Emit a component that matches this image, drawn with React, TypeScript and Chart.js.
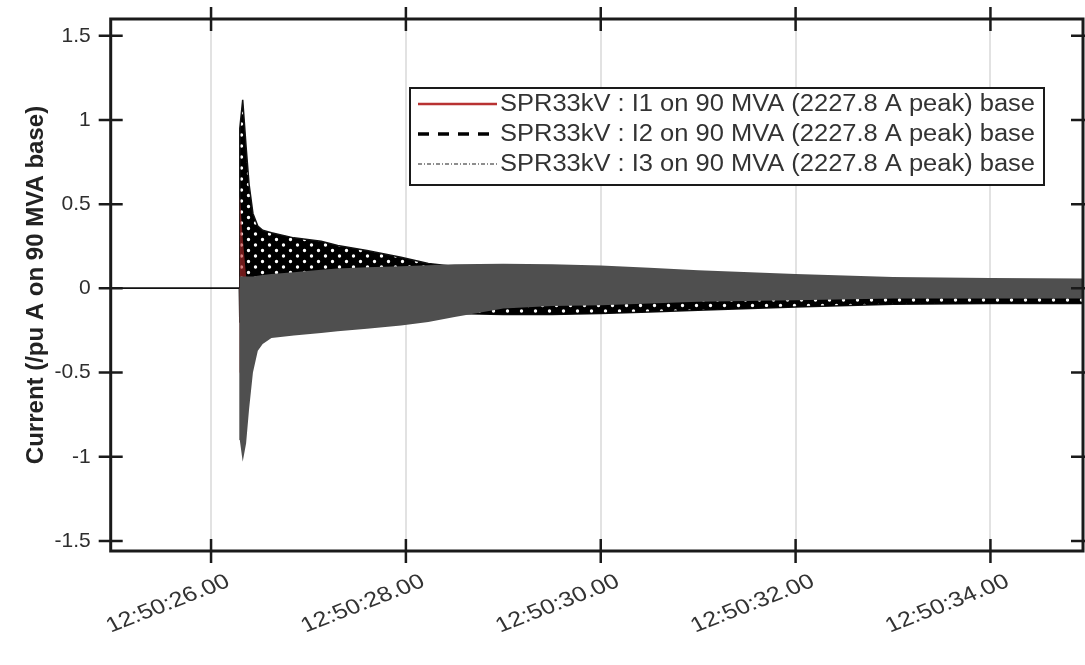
import { useEffect, useRef } from "react";
import { Chart, registerables } from "chart.js";

Chart.register(...registerables);

// Time in seconds past 12:50:00 at which each envelope value is sampled
const TIME_S = [
  24.97, 26.29, 26.295, 26.325, 26.36, 26.39, 26.43, 26.48, 26.53, 26.62, 26.85, 27.13, 27.3,
  27.6, 27.95, 28.23, 28.5, 29.0, 29.5, 30.0, 30.5, 31.0, 32.0, 33.0, 34.0, 34.95,
];

// Phase currents (pu), upper and lower envelope of the 50 Hz waveform
const I1_UPPER = [
  0, 0, 0.55, 0.3, 0.07, 0.06, 0.05, 0.05, 0.05, 0.05, 0.05, 0.06, 0.06, 0.07, 0.07, 0.08, 0.08,
  0.08, 0.08, 0.08, 0.08, 0.07, 0.06, 0.05, 0.04, 0.04,
];
const I1_LOWER = [
  0, 0, -0.5, -0.6, -0.4, -0.3, -0.2, -0.15, -0.12, -0.1, -0.1, -0.1, -0.1, -0.1, -0.1, -0.1, -0.1,
  -0.08, -0.07, -0.07, -0.06, -0.06, -0.05, -0.04, -0.04, -0.04,
];
const I2_UPPER = [
  0, 0, 0.95, 1.12, 0.84, 0.62, 0.445, 0.37, 0.345, 0.33, 0.3, 0.28, 0.255, 0.225, 0.185, 0.148,
  0.13, 0.12, 0.115, 0.11, 0.1, 0.09, 0.07, 0.055, 0.05, 0.05,
];
const I2_LOWER = [
  0, 0, -0.2, -0.2, -0.18, -0.16, -0.15, -0.15, -0.14, -0.13, -0.13, -0.13, -0.13, -0.135, -0.14,
  -0.14, -0.15, -0.155, -0.155, -0.15, -0.14, -0.13, -0.11, -0.095, -0.09, -0.09,
];
const I3_UPPER = [
  0, 0, 0.07, 0.07, 0.07, 0.07, 0.07, 0.075, 0.08, 0.085, 0.095, 0.11, 0.118, 0.125, 0.132, 0.138,
  0.143, 0.146, 0.143, 0.136, 0.123, 0.107, 0.085, 0.067, 0.062, 0.058,
];
const I3_LOWER = [
  0, 0, -0.9, -1.03, -0.92, -0.72, -0.5, -0.37, -0.33, -0.295, -0.28, -0.265, -0.255, -0.24, -0.22,
  -0.2, -0.17, -0.12, -0.105, -0.1, -0.09, -0.08, -0.07, -0.06, -0.06, -0.06,
];

const X_TICKS = [26, 28, 30, 32, 34];
const Y_TICKS = [-1.5, -1, -0.5, 0, 0.5, 1, 1.5];
const X_MIN = 24.97;
const X_MAX = 34.95;
const Y_MIN = -1.56;
const Y_MAX = 1.6;

const LEGEND_LABELS = [
  "SPR33kV : I1 on 90 MVA (2227.8 A peak) base",
  "SPR33kV : I2 on 90 MVA (2227.8 A peak) base",
  "SPR33kV : I3 on 90 MVA (2227.8 A peak) base",
];
const Y_TITLE = "Current (/pu A on 90 MVA base)";

const FONT = '"Liberation Sans", Arial, sans-serif';

const toPoints = (vals: number[]) => TIME_S.map((t, i) => ({ x: t, y: vals[i] }));
const formatTime = (v: number) => `12:50:${v.toFixed(2)}`;

// Box around the axes with ticks crossing each edge
const framePlugin = {
  id: "frame",
  afterDraw(chart: any) {
    const { ctx, chartArea: a, scales } = chart;
    ctx.save();
    ctx.strokeStyle = "#1a1a1a";
    ctx.lineWidth = 3;
    ctx.strokeRect(a.left, a.top, a.right - a.left, a.bottom - a.top);
    ctx.lineWidth = 2.5;
    const t = 12;
    ctx.beginPath();
    X_TICKS.forEach((v) => {
      const px = scales.x.getPixelForValue(v);
      ctx.moveTo(px, a.bottom - t);
      ctx.lineTo(px, a.bottom + t);
      ctx.moveTo(px, a.top - t);
      ctx.lineTo(px, a.top + t);
    });
    Y_TICKS.forEach((v) => {
      const py = scales.y.getPixelForValue(v);
      ctx.moveTo(a.left - t, py);
      ctx.lineTo(a.left + t, py);
      ctx.moveTo(a.right - t, py);
      ctx.lineTo(a.right + t, py);
    });
    ctx.stroke();
    ctx.restore();
  },
};

// Slanted, slightly widened time labels under the x axis
const timeLabelPlugin = {
  id: "timeLabels",
  afterDraw(chart: any) {
    const { ctx, chartArea: a, scales } = chart;
    ctx.save();
    ctx.font = `21px ${FONT}`;
    ctx.fillStyle = "#333333";
    ctx.textAlign = "right";
    ctx.textBaseline = "top";
    X_TICKS.forEach((v) => {
      const px = scales.x.getPixelForValue(v);
      ctx.save();
      ctx.translate(px + 12, a.bottom + 20);
      ctx.scale(1.2, 1);
      ctx.rotate((-25 * Math.PI) / 180);
      ctx.fillText(formatTime(v), 0, 0);
      ctx.restore();
    });
    ctx.restore();
  },
};

// Legend box with one line sample per phase
const legendPlugin = {
  id: "phaseLegend",
  afterDraw(chart: any) {
    const { ctx } = chart;
    const box = { x: 410, y: 88, w: 634, h: 97 };
    ctx.save();
    ctx.fillStyle = "#ffffff";
    ctx.fillRect(box.x, box.y, box.w, box.h);
    ctx.strokeStyle = "#1a1a1a";
    ctx.lineWidth = 2;
    ctx.strokeRect(box.x, box.y, box.w, box.h);

    const styles = [
      { color: "#b83232", width: 2.5, dash: [] as number[] },
      { color: "#000000", width: 3.5, dash: [11, 9] },
      { color: "#6a6a6a", width: 1.3, dash: [4, 2, 1, 2] },
    ];
    const rowY = [104, 134, 164];
    const textX = 500;
    const textW = 535;
    LEGEND_LABELS.forEach((label, i) => {
      const s = styles[i];
      ctx.beginPath();
      ctx.setLineDash(s.dash);
      ctx.strokeStyle = s.color;
      ctx.lineWidth = s.width;
      ctx.moveTo(418, rowY[i]);
      ctx.lineTo(497, rowY[i]);
      ctx.stroke();
      ctx.setLineDash([]);

      ctx.font = `23px ${FONT}`;
      ctx.fillStyle = "#333333";
      ctx.textBaseline = "middle";
      ctx.textAlign = "left";
      const w = ctx.measureText(label).width;
      ctx.save();
      ctx.translate(textX, rowY[i] + 1);
      ctx.scale(textW / w, 1);
      ctx.fillText(label, 0, 0);
      ctx.restore();
    });
    ctx.restore();
  },
};

export default function App() {
  const canvasRef = useRef<HTMLCanvasElement | null>(null);

  useEffect(() => {
    document.body.style.margin = "0";
    const canvas = canvasRef.current;
    if (!canvas) return;

    // Black fill with small gaps, like a dashed trace packed tightly
    const tile = document.createElement("canvas");
    tile.width = 14;
    tile.height = 11;
    const tc = tile.getContext("2d")!;
    tc.fillStyle = "#000000";
    tc.fillRect(0, 0, 14, 11);
    tc.globalCompositeOperation = "destination-out";
    tc.beginPath();
    tc.arc(3.5, 3, 1.7, 0, Math.PI * 2);
    tc.moveTo(12.2, 8.5);
    tc.arc(10.5, 8.5, 1.7, 0, Math.PI * 2);
    tc.fill();
    const ctx = canvas.getContext("2d")!;
    const dottedBlack = ctx.createPattern(tile, "repeat") || "#000000";

    const band = (label: string, upper: number[], lower: number[], fill: any, border: string, bw: number, order: number) => [
      {
        label,
        data: toPoints(upper),
        borderColor: border,
        borderWidth: bw,
        backgroundColor: fill,
        fill: "+1",
        order,
        pointRadius: 0,
        tension: 0,
      },
      {
        label: label + " lower",
        data: toPoints(lower),
        borderColor: border,
        borderWidth: bw,
        backgroundColor: fill,
        fill: false,
        order,
        pointRadius: 0,
        tension: 0,
      },
    ];

    const chart = new Chart(canvas, {
      type: "line",
      data: {
        datasets: [
          ...band("I1", I1_UPPER, I1_LOWER, "rgba(185,45,45,0.6)", "rgba(0,0,0,0)", 1, 1),
          ...band("I2", I2_UPPER, I2_LOWER, dottedBlack, "#111111", 1.5, 2),
          ...band("I3", I3_UPPER, I3_LOWER, "#4f4f4f", "rgba(0,0,0,0)", 1, 0),
        ] as any,
      },
      options: {
        responsive: false,
        animation: false,
        layout: { padding: { top: 19, right: 2, left: 0, bottom: 0 } },
        plugins: { legend: { display: false }, tooltip: { enabled: false } },
        scales: {
          x: {
            type: "linear",
            min: X_MIN,
            max: X_MAX,
            afterBuildTicks: (s: any) => {
              s.ticks = X_TICKS.map((v) => ({ value: v }));
            },
            afterFit: (s: any) => {
              s.height = 114;
              s.paddingLeft = 0;
              s.paddingRight = 0;
            },
            grid: { color: "#e2e2e2", lineWidth: 2, drawTicks: false },
            border: { display: false },
            ticks: { display: false },
          },
          y: {
            type: "linear",
            min: Y_MIN,
            max: Y_MAX,
            afterBuildTicks: (s: any) => {
              s.ticks = Y_TICKS.map((v) => ({ value: v }));
            },
            afterFit: (s: any) => {
              s.width = 110.7;
              s.paddingTop = 0;
              s.paddingBottom = 0;
            },
            grid: { display: false, drawTicks: false },
            border: { display: false },
            ticks: {
              padding: 20,
              color: "#2e2e2e",
              font: { family: FONT, size: 21 },
              callback: (v: any) => String(v),
            },
            title: {
              display: true,
              text: Y_TITLE,
              color: "#222222",
              font: { family: FONT, size: 24, weight: "bold" },
              padding: { top: 22, bottom: 0 },
            },
          },
        },
      } as any,
      plugins: [framePlugin, timeLabelPlugin, legendPlugin],
    });

    return () => chart.destroy();
  }, []);

  return (
    <div style={{ width: 1085, height: 665, background: "#ffffff" }}>
      <canvas ref={canvasRef} width={1085} height={665} />
    </div>
  );
}
